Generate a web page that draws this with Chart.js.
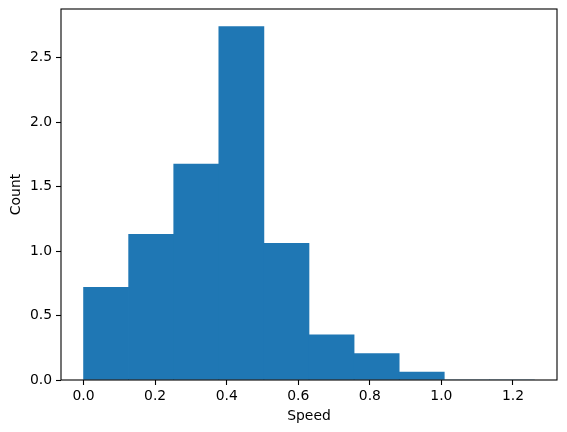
<!DOCTYPE html>
<html>
<head>
<meta charset="utf-8">
<script src="https://cdn.jsdelivr.net/npm/chart.js@4"></script>
<style>
  html, body { margin: 0; padding: 0; background: #fff; }
  #wrap { width: 567px; height: 432px; }
</style>
</head>
<body>
<div id="wrap"><canvas id="hist"></canvas></div>
<script>
// bin edges run 0 .. 1.26 in 10 bins (density histogram)
const binWidth = 0.126;
const binCenters = [0.063, 0.189, 0.315, 0.441, 0.567, 0.693, 0.819, 0.945, 1.071, 1.197];
const density = [0.72, 1.13, 1.675, 2.742, 1.06, 0.35, 0.205, 0.062, 0, 0];
const xTicks = [0.0, 0.2, 0.4, 0.6, 0.8, 1.0, 1.2];
const yTicks = [0.0, 0.5, 1.0, 1.5, 2.0, 2.5];

const font = { family: "DejaVu Sans", size: 13.9 };

// matplotlib style full box round the axes
const spines = {
  id: "spines",
  afterDraw(chart) {
    const a = chart.chartArea, ctx = chart.ctx;
    ctx.save();
    ctx.strokeStyle = "#000";
    ctx.lineWidth = 1.1;
    ctx.strokeRect(a.left, a.top, a.right - a.left, a.bottom - a.top);
    ctx.restore();
  }
};

const pts = binCenters.map((c, i) => ({ x: c, y: density[i] }));

new Chart(document.getElementById("hist"), {
  type: "bar",
  data: {
    datasets: [{
      data: pts,
      backgroundColor: "#1f77b4",
      borderWidth: 0,
      barPercentage: 1.0,
      categoryPercentage: 1.0
    }]
  },
  options: {
    responsive: true,
    maintainAspectRatio: false,
    animation: false,
    layout: { padding: { left: 0, top: 9, right: 10, bottom: 0 } },
    plugins: { legend: { display: false }, tooltip: { enabled: false } },
    scales: {
      x: {
        type: "linear",
        offset: false,
        min: -binWidth * 10 * 0.05,
        max: binWidth * 10 * 1.05,
        afterBuildTicks: s => { s.ticks = xTicks.map(v => ({ value: v })); },
        afterFit: s => { s.height = 52; s.paddingRight = 0; },
        ticks: {
          color: "#000", font: font, padding: 3, maxRotation: 0,
          callback: v => v.toFixed(1)
        },
        grid: { offset: false, drawOnChartArea: false, color: "#000", tickLength: 5, tickWidth: 1.1 },
        border: { display: false },
        title: { display: true, text: "Speed", color: "#000", font: font, padding: { top: 4, bottom: 7 } }
      },
      y: {
        min: 0,
        max: 2.742 * 1.05,
        afterBuildTicks: s => { s.ticks = yTicks.map(v => ({ value: v })); },
        afterFit: s => { s.width = 61; s.paddingTop = 0; s.paddingBottom = 0; },
        ticks: {
          color: "#000", font: font, padding: 4,
          callback: v => v.toFixed(1)
        },
        grid: { drawOnChartArea: false, color: "#000", tickLength: 5, tickWidth: 1.1 },
        border: { display: false },
        title: { display: true, text: "Count", color: "#000", font: font, padding: { top: 8, bottom: 0 } }
      }
    }
  },
  plugins: [spines]
});
</script>
</body>
</html>
